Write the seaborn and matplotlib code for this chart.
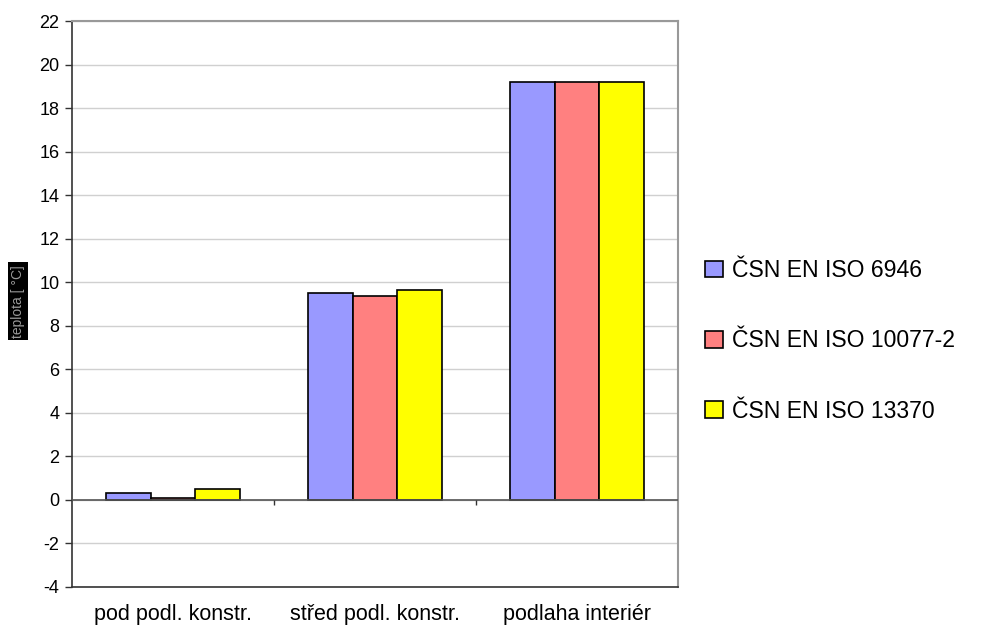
import matplotlib
matplotlib.use("Agg")
import matplotlib.pyplot as plt
import seaborn as sns
import pandas as pd
import numpy as np

categories = ["pod podl. konstr.", "střed podl. konstr.", "podlaha interiér"]
series = ["ČSN EN ISO 6946", "ČSN EN ISO 10077-2", "ČSN EN ISO 13370"]
iso6946 = [0.31, 9.52, 19.2]
iso10077 = [0.07, 9.36, 19.2]
iso13370 = [0.52, 9.66, 19.2]
colors = ["#9999FF", "#FF8080", "#FFFF00"]
yticks = list(range(-4, 23, 2))

rows = []
for s, vals in zip(series, [iso6946, iso10077, iso13370]):
    for c, v in zip(categories, vals):
        rows.append({"cat": c, "series": s, "value": v})
df = pd.DataFrame(rows)

sns.set_style("white")
plt.rcParams["font.family"] = ["Liberation Sans", "DejaVu Sans"]
plt.rcParams["text.color"] = "black"
plt.rcParams["xtick.color"] = "black"
plt.rcParams["ytick.color"] = "black"

fig = plt.figure(figsize=(9.89, 6.27), dpi=100)
ax = fig.add_axes([0.0728, 0.0638, 0.6127, 0.9027])

sns.barplot(data=df, x="cat", y="value", hue="series", palette=colors,
            width=0.66, edgecolor="black", linewidth=1.2, saturation=1,
            ax=ax, zorder=3, legend=True)

ax.set_ylim(-4, 22)
ax.set_xlim(-0.5, len(categories) - 0.5)
ax.set_yticks(yticks)
ax.set_yticklabels([str(t) for t in yticks], fontsize=13)
ax.yaxis.grid(True, color="#D0D0D0", linewidth=1, zorder=0)
ax.set_axisbelow(True)
ax.tick_params(axis="y", direction="out", length=5, width=1, color="#333333",
               labelcolor="black", pad=4, left=True)
ax.tick_params(axis="x", length=0, labelsize=15.5, labelcolor="black", pad=12)
ax.axhline(0, color="#555555", linewidth=1.2, zorder=4)
bounds = np.arange(len(categories) - 1) + 0.5
ax.vlines(bounds, -0.25, 0, color="#333333", linewidth=1, zorder=4)

for side in ["left", "bottom"]:
    ax.spines[side].set_color("#333333")
    ax.spines[side].set_linewidth(1.2)
for side in ["top", "right"]:
    ax.spines[side].set_color("#999999")
    ax.spines[side].set_linewidth(1.5)

ax.set_xlabel("")
ax.set_ylabel("teplota [ °C]", fontsize=10, color="#999999",
              bbox=dict(facecolor="black", edgecolor="none", pad=2.0))
ax.yaxis.set_label_coords(-0.078, 0.505)

handles, labels = ax.get_legend_handles_labels()
leg = ax.legend(handles, labels, loc="center left", bbox_to_anchor=(1.03, 0.435),
                frameon=False, fontsize=16.6, handlelength=0.75, handleheight=0.75,
                handletextpad=0.4, labelspacing=2.05, borderaxespad=0)
for t in leg.get_texts():
    t.set_color("black")

fig.savefig("out.png", dpi=100)
